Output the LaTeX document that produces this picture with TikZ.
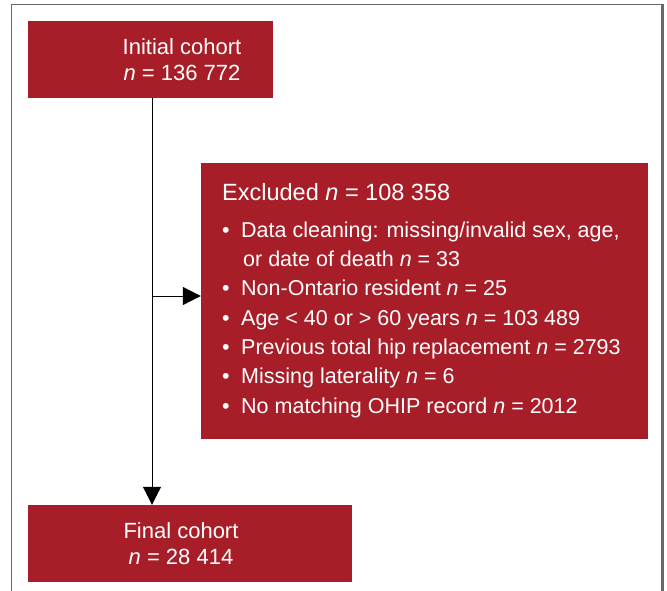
\documentclass[tikz,border=0pt]{standalone}
\usepackage{fontspec}
\setmainfont{Liberation Sans}
\usetikzlibrary{arrows.meta}
\definecolor{cohortred}{RGB}{168,30,40}
\definecolor{framegray}{RGB}{105,105,105}
\tikzset{
	redbox/.style={fill=cohortred, draw=none, inner sep=0pt},
	boxtext/.style={text=white, align=center, inner sep=0pt, font=\fontsize{22}{26}\selectfont},
	flowarrow/.style={line width=1pt, -{Triangle[length=18pt, width=18pt]}}
}
\begin{document}
\begin{tikzpicture}[x=1pt, y=-1pt]
			\useasboundingbox (0,0) rectangle (667,591);
			%frame
			\draw[framegray, line width=1.5pt] (11.5,591) -- (11.5,4.5) -- (662,4.5);
			\draw[framegray, line width=3pt] (662.5,3.75) -- (662.5,591);
			
			%boxes
			\node (initial) at (150.5,59.5) [redbox, minimum width=245pt, minimum height=77pt]{};
			\node (initialtext) at (182,59.5) [boxtext]{Initial cohort\\\textit{n} = 136 772};
			
			\node (excluded) at (424.5,301) [redbox, minimum width=447pt, minimum height=276pt]{};
			\node (excludedtitle) at (222,183) [anchor=north west, inner sep=0pt, text=white, font=\fontsize{23.5}{28}\selectfont]{Excluded \textit{n} = 108 358};
			\node (excludedlist) at (222,221.5) [anchor=north west, inner sep=0pt, text=white, align=left, font=\fontsize{21.5}{29.3}\selectfont]{%
				\makebox[19pt][l]{•}Data cleaning: missing/invalid sex, age,\\
				\hspace*{21pt}or date of death \textit{n} = 33\\
				\makebox[19pt][l]{•}Non-Ontario resident \textit{n} = 25\\
				\makebox[19pt][l]{•}Age < 40 or > 60 years \textit{n} = 103 489\\
				\makebox[19pt][l]{•}Previous total hip replacement \textit{n} = 2793\\
				\makebox[19pt][l]{•}Missing laterality \textit{n} = 6\\
				\makebox[19pt][l]{•}No matching OHIP record \textit{n} = 2012};
			
			\node (final) at (190,543.5) [redbox, minimum width=324pt, minimum height=77pt]{};
			\node (finaltext) at (181,543.5) [boxtext]{Final cohort\\\textit{n} = 28 414};
			
			%arrows
			\coordinate (branch) at (152,296);
			\draw[flowarrow] (initial.south -| branch) -- (branch |- final.north);
			\draw[flowarrow] (branch) -- (branch -| excluded.west);
\end{tikzpicture}
\end{document}
